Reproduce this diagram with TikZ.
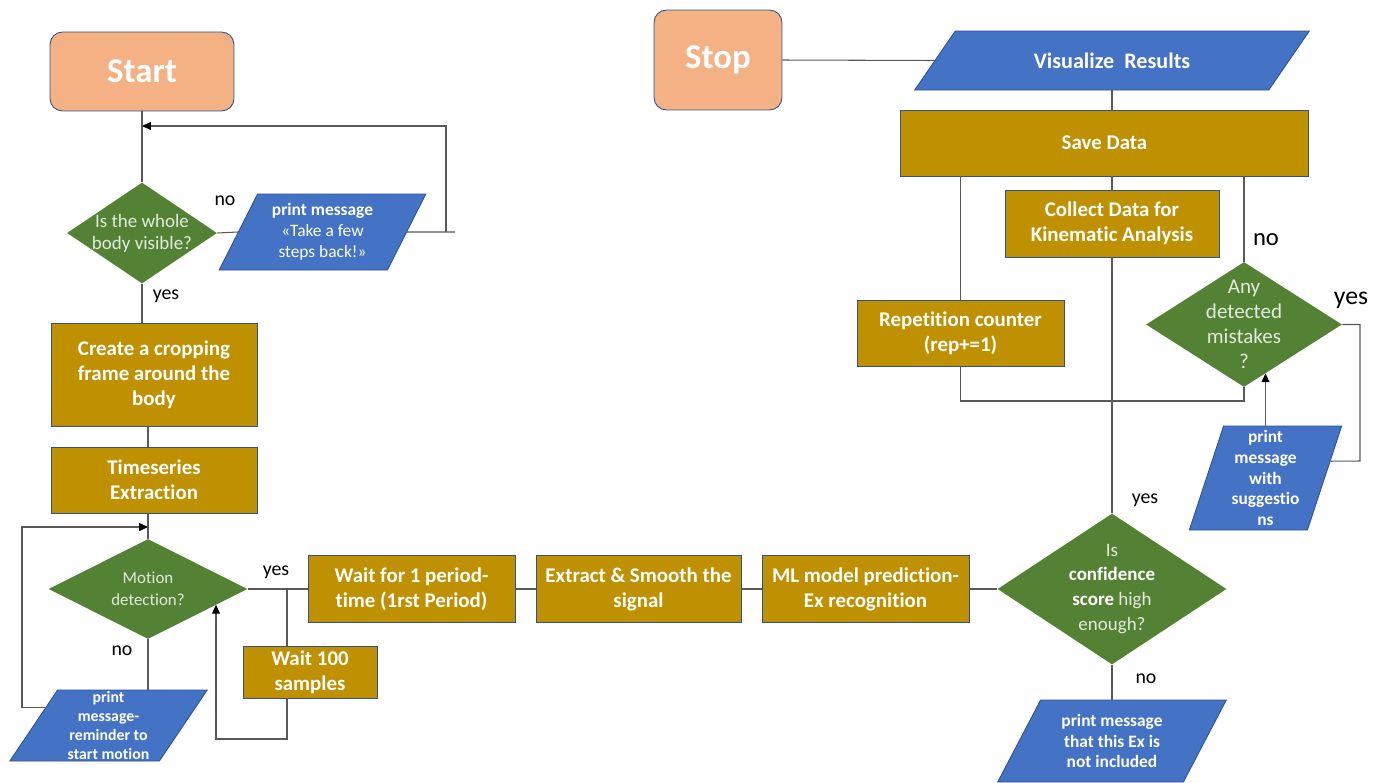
\documentclass[tikz,border=0pt]{standalone}
\usepackage{fontspec}
\setmainfont{Carlito}[Ligatures=NoCommon]
\usetikzlibrary{arrows.meta,calc,positioning}
\usetikzlibrary{shapes.geometric}
\definecolor{gold}{HTML}{BF9000}
\definecolor{leaf}{HTML}{548235}
\definecolor{sky}{HTML}{4472C4}
\definecolor{peach}{HTML}{F4B183}
\definecolor{rim}{HTML}{2F528F}
\definecolor{pale}{HTML}{E2EBDC}
\definecolor{lineg}{HTML}{595959}

\begin{document}
\begin{tikzpicture}[x=0.02cm,y=-0.02cm,
every node/.style={align=center,inner sep=0pt},
term/.style={rectangle,rounded corners=0.25cm,draw=rim,line width=0.5pt,fill=peach,text=white,
  font=\fontsize{19.8}{22}\selectfont\bfseries},
proc/.style={rectangle,draw=rim,line width=0.5pt,fill=gold,text=white,
  font=\fontsize{11.9}{14.2}\selectfont\bfseries},
decide/.style={diamond,fill=leaf,inner sep=-10pt,text=pale,
  font=\fontsize{10.8}{12.5}\selectfont},
io/.style={trapezium,trapezium stretches=true,draw=rim,line width=0.5pt,fill=sky,text=white,
  font=\fontsize{9.9}{11.9}\selectfont\bfseries},
tag/.style={font=\fontsize{11.3}{13}\selectfont},
link/.style={draw=lineg,line width=0.6pt},
arr/.style={-{Triangle[length=5pt,width=4.5pt,color=black]}}]
\useasboundingbox (0,0) rectangle (1383,782);

% left column
\node[term,minimum width=3.68cm,minimum height=1.58cm] (start) at (142,71.5) {Start};
\node[decide,minimum width=3cm,minimum height=2.02cm] (dBody) at (142,233) {Is the whole\\body visible?};
\node[io,trapezium left angle=62.2,trapezium right angle=117.8,minimum width=4.14cm,minimum height=1.52cm]
  (msgBack) at (322.5,232) {print message\\\mdseries «Take a few\\\mdseries steps back!»};
\node[proc,minimum width=4.12cm,minimum height=2.06cm] (crop) at (154,374.5) {Create a cropping\\frame around the\\body};
\node[proc,minimum width=4.12cm,minimum height=1.32cm] (tser) at (154,480) {Timeseries\\Extraction};
\node[decide,minimum width=3.98cm,minimum height=2cm,font=\fontsize{9.6}{12.5}\selectfont]
  (dMotion) at (148,589) {Motion\\detection?};
\node[io,trapezium left angle=60.6,trapezium right angle=119.4,minimum width=3.98cm,minimum height=1.42cm,
  font=\fontsize{9}{10.8}\selectfont\bfseries] (msgRem) at (108.5,725.5) {print\\message-\\reminder to\\start motion};

% bottom row
\node[proc,minimum width=4.14cm,minimum height=1.34cm] (wait1) at (411.5,589) {Wait for 1 period-\\time (1rst Period)};
\node[proc,minimum width=2.68cm,minimum height=1.04cm] (wait100) at (310,672) {Wait 100\\samples};
\node[proc,minimum width=4.1cm,minimum height=1.34cm] (smooth) at (638.5,589) {Extract \& Smooth the\\signal};
\node[proc,minimum width=4.14cm,minimum height=1.34cm] (mlpred) at (865.5,589) {ML model prediction-\\Ex recognition};
\node[decide,minimum width=4.58cm,minimum height=3.02cm,font=\fontsize{10.8}{14.2}\selectfont]
  (dConf) at (1112,589) {Is\\\textcolor{white}{\bfseries confidence}\\\textcolor{white}{\bfseries score} high\\enough?};
\node[io,trapezium left angle=60.7,trapezium right angle=119.3,minimum width=4.6cm,minimum height=1.64cm]
  (msgNot) at (1112,741) {print message\\that this Ex is\\not included};

% right column
\node[term,minimum width=2.56cm,minimum height=2cm] (stop) at (718,60) {Stop};
\node[io,trapezium left angle=37.8,trapezium right angle=142.2,minimum width=7.9cm,minimum height=1.18cm,
  font=\fontsize{12.6}{14}\selectfont\bfseries] (vis) at (1112,60.5) {Visualize~~Results};
\node[proc,minimum width=8.16cm,minimum height=1.32cm] (save) at (1104.5,143) {Save Data};
\node[proc,minimum width=4.28cm,minimum height=1.34cm] (collect) at (1112,223.5) {Collect Data for\\Kinematic Analysis};
\node[proc,minimum width=4.14cm,minimum height=1.32cm] (rep) at (960.5,333) {Repetition counter\\(rep+=1)};
\node[decide,minimum width=3.92cm,minimum height=2.5cm,font=\fontsize{12}{14.2}\selectfont]
  (dMist) at (1244,324.5) {Any\\detected\\mistakes\\?};
\node[io,trapezium left angle=73.9,trapezium right angle=106.1,minimum width=3.06cm,minimum height=2.08cm]
  (msgS) at (1265.5,478) {print\\message\\with\\suggestio\\ns};

% branch labels
\node[tag] (no1) at (225,201) {no};
\node[tag] (yes1) at (166,296) {yes};
\node[tag] (yes2) at (276,572) {yes};
\node[tag] (no2) at (122,651) {no};
\node[tag,font=\fontsize{14}{16}\selectfont] (no3) at (1266,240) {no};
\node[tag,font=\fontsize{14.6}{16}\selectfont] (yes3) at (1351,300) {yes};
\node[tag] (yes4) at (1145,500) {yes};
\node[tag] (no4) at (1146,679) {no};

\coordinate (loopT) at (446,126);
\coordinate (tEnd) at (455,232);
\coordinate (loopL) at (22,527);
\coordinate (j1) at (287,589);
\coordinate (loopB) at (216,739);
\coordinate (loopR) at (1244,401);
\coordinate (loopY) at (1360,461);

\draw[link] (start.south) -- (dBody.north);
\draw[link] (dBody.east) -- (msgBack.west);
\draw[link] (msgBack.east) -- (tEnd);
\draw[link,arr] (loopT |- msgBack.east) -- (loopT) -- (loopT -| start.south);
\draw[link] (dBody.south) -- (dBody.south |- crop.north);
\draw[link] (crop.south -| dMotion.north) -- (tser.north -| dMotion.north);
\draw[link] (tser.south -| dMotion.north) -- (dMotion.north);
\draw[link] (dMotion.south) -- (dMotion.south |- msgRem.north);
\draw[link,arr] ($(msgRem.top left corner)!0.25!(msgRem.bottom left corner)$) -| (loopL) -- (loopL -| dMotion.north);
\draw[link] (dMotion.east) -- (wait1.west);
\draw[link] (j1) -- (j1 |- wait100.north);
\draw[link,arr] (j1 |- wait100.south) |- (loopB) -- (loopB |- dMotion.-13);
\draw[link] (wait1.east) -- (smooth.west);
\draw[link] (smooth.east) -- (mlpred.west);
\draw[link] (mlpred.east) -- (dConf.west);
\draw[link] (dConf.north) -- (dConf.north |- collect.south);
\draw[link] (dConf.south) -- (dConf.south |- msgNot.north);
\draw[link] (collect.north) -- (collect.north |- save.south);
\draw[link] (vis.south) -- (vis.south |- save.north);
\draw[link] (stop.east) -- (vis.west);
\draw[link] (rep.north) -- (rep.north |- save.south);
\draw[link] (dMist.north) -- (dMist.north |- save.south);
\draw[link] (rep.south) |- (loopR) -- (dMist.south);
\draw[link] (dMist.east) -| (loopY) -- ($(msgS.top right corner)!0.34!(msgS.bottom right corner)$);
\draw[link,arr] (msgS.north) -- (msgS.north |- dMist.-66);
\end{tikzpicture}
\end{document}
